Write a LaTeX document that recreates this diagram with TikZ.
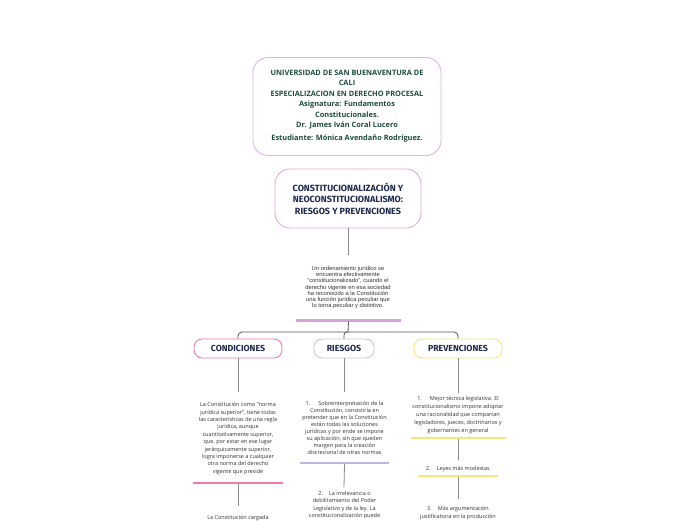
\documentclass[tikz,border=0pt]{standalone}
\usepackage{fontspec}
\setmainfont{Open Sans}
\newfontfamily\firafont{Fira Sans}
\newfontfamily\libsans{Liberation Sans}
\definecolor{unigreen}{HTML}{1F4D3A}
\definecolor{navy}{HTML}{1F2A4E}
\definecolor{bodytxt}{HTML}{333333}
\definecolor{topborder}{HTML}{E4B4E4}
\definecolor{titleborder}{HTML}{E0A8D8}
\definecolor{intrbar}{HTML}{D8A0D8}
\definecolor{pinkc}{HTML}{F07CA0}
\definecolor{lavc}{HTML}{C8C4E8}
\definecolor{lavbar}{HTML}{B8B8E0}
\definecolor{yelc}{HTML}{F8E878}
\definecolor{connc}{HTML}{555555}
\definecolor{subconn}{HTML}{8A8A8A}
\begin{document}
\begin{tikzpicture}[x=1pt,y=-1pt,
  topbox/.style={draw=topborder, line width=0.9pt, rounded corners=15pt, align=center,
    text=unigreen, font={\fontsize{7.4}{10.4}\selectfont\bfseries}},
  titlebox/.style={draw=titleborder, line width=0.9pt, rounded corners=15pt, align=center,
    text=navy, font={\firafont\fontsize{9}{11.4}\selectfont\bfseries}},
  childbox/.style={line width=0.9pt, rounded corners=8pt, minimum height=19pt, inner sep=0pt,
    text=navy, font={\firafont\fontsize{8.8}{9}\selectfont\bfseries}},
  body/.style={align=center, inner sep=0pt, text=bodytxt},
  introtxt/.style={body, font={\libsans\fontsize{5.8}{6.2}\selectfont}},
  bartxt/.style={body, font={\fontsize{5.5}{#1}\selectfont}},
  barline/.style={draw=none, inner sep=0pt, minimum height=#1},
  conn/.style={draw=connc, line width=0.8pt},
  subline/.style={draw=subconn, line width=0.8pt},
]
\useasboundingbox[fill=white] (0,0) rectangle (696,520);

% header box
\node[topbox, minimum width=188pt, minimum height=98pt] (uni) at (347,106.5)
 {UNIVERSIDAD DE SAN BUENAVENTURA DE\\CALI\\ESPECIALIZACION EN DERECHO PROCESAL\\
  Asignatura: Fundamentos\\Constitucionales.\\Dr. James Iván Coral Lucero\\[3pt]
  Estudiante: Mónica Avendaño Rodríguez.};

% title box
\node[titlebox, minimum width=146pt, minimum height=59pt] (title) at (348,198.5)
 {CONSTITUCIONALIZACIÓN Y\\NEOCONSTITUCIONALISMO:\\RIESGOS Y PREVENCIONES};

\coordinate (introtop) at (348,255);
\draw[subline] (title.south) -- (introtop);

\node[introtxt] (intro) at (348,287.5)
 {Un ordenamiento jurídico se\\encuentra efectivamente\\“constitucionalizado”, cuando el\\
  derecho vigente en esa sociedad\\ha reconocido a la Constitución\\
  una función jurídica peculiar que\\lo torna peculiar y distintivo.};
\node[barline=3pt, fill=intrbar, minimum width=105pt] (ibar) at (348.5,320) {};

% children
\node[childbox, draw=pinkc, minimum width=88pt] (cond) at (238,348.5) {CONDICIONES};
\node[childbox, draw=lavc, minimum width=60pt] (ries) at (344,348.5) {RIESGOS};
\node[childbox, draw=yelc, minimum width=88pt] (prev) at (458,348.5) {PREVENCIONES};

\coordinate (hub) at (348,332);
\draw[conn] (ibar.south) -- (hub);
\draw[conn, rounded corners=4pt] (hub) -| (cond.north);
\draw[conn, rounded corners=3pt] (hub) -| (ries.north);
\draw[conn, rounded corners=4pt] (hub) -| (prev.north);

% CONDICIONES branch
\coordinate (c1) at (238,392);
\draw[subline] (cond.south) -- (c1);
\node[bartxt=7.4] (ctext) at (238,438.5)
 {La Constitución como "norma\\jurídica superior", tiene todas\\las características de una regla\\
  jurídica, aunque\\cuantitativamente superior,\\que, por estar en ese lugar\\
  jerárquicamente superior,\\logra imponerse a cualquier\\otra norma del derecho\\vigente que preside};
\node[barline=2pt, fill=pinkc, minimum width=90pt] (cbar) at (238,483) {};
\coordinate (c2) at (238,506);
\draw[subline] (cbar.south) -- (c2);
\node[bartxt=7.4] (ctext2) at (238,518) {La Constitución cargada};

% RIESGOS branch
\coordinate (r1) at (344,392);
\draw[subline] (ries.south) -- (r1);
\node[bartxt=7.1] (rtext) at (344.5,428)
 {1.\hspace{8pt}Sobreinterpretación de la\\Constitución, consistiría en\\
  pretender que en la Constitución\\están todas las soluciones\\
  jurídicas y por ende se impone\\su aplicación, sin que queden\\
  margen para la creación\\discrecional de otras normas};
\node[barline=2pt, fill=lavbar, minimum width=89pt] (rbar) at (344.5,463) {};
\coordinate (r2) at (344,487);
\draw[subline] (rbar.south) -- (r2);
\node[bartxt=7.3] (rtext2) at (344.5,505)
 {2.\hspace{6pt}La irrelevancia o\\debilitamiento del Poder\\Legislativo y de la ley. La\\
  constitucionalización puede};

% PREVENCIONES branch
\coordinate (p1) at (458,393);
\draw[subline] (prev.south) -- (p1);
\node[bartxt=7.9] (ptext) at (458,415)
 {1.\hspace{8pt}Mejor técnica legislativa. El\\constitucionalismo impone adoptar\\
  una racionalidad que compartan\\legisladores, jueces, doctrinarios y\\gobernantes en general};
\node[barline=2pt, fill=yelc, minimum width=95pt] (pbar1) at (458,438) {};
\coordinate (p2) at (458,460);
\draw[subline] (pbar1.south) -- (p2);
\node[bartxt=7.9] (ptext2) at (458,469) {2.\hspace{6pt}Leyes más modestas};
\node[barline=2pt, fill=yelc, minimum width=80pt] (pbar2) at (458,476) {};
\coordinate (p3) at (458,499);
\draw[subline] (pbar2.south) -- (p3);
\node[bartxt=8] (ptext3) at (458,513)
 {3.\hspace{6pt}Más argumentación\\justificatoria en la producción};
\end{tikzpicture}
\end{document}
